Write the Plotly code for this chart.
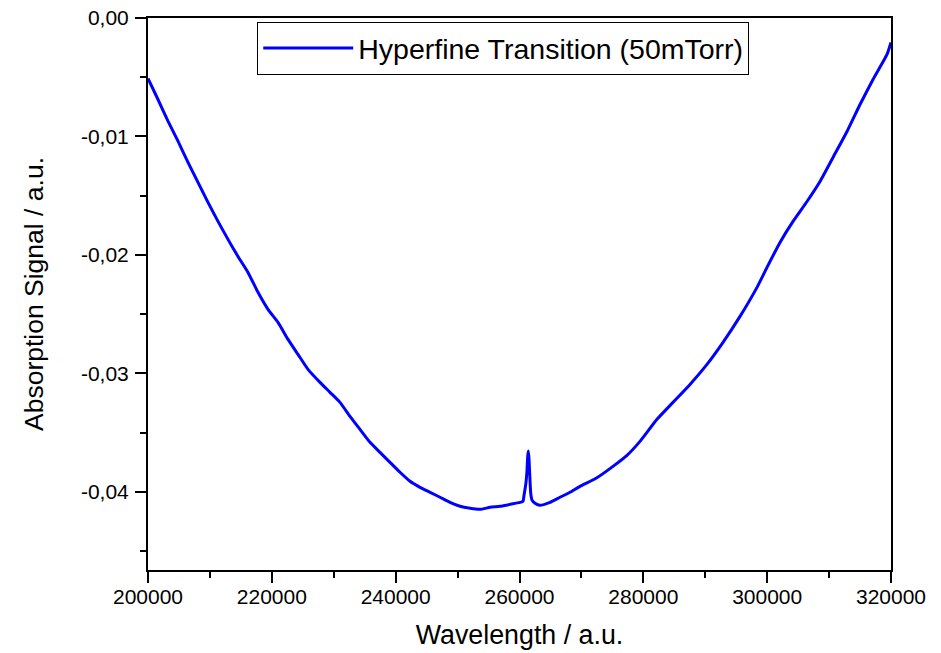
import plotly.graph_objects as go

# Absorption scan: wavelength (a.u.) vs. absorption signal (a.u.)
wavelength = [
    200000, 201615, 203230, 204845, 206460, 208076, 209691, 211306, 212921,
    214536, 216151, 217766, 219381, 220996, 222611, 224227, 225842, 227780,
    229395, 231010, 232625, 234240, 235856, 237470, 239085, 240700, 242315,
    243930, 245545, 247160, 248775, 250390, 252006, 253620, 255235, 256850,
    258465, 260080, 260565, 260727, 260890, 261051, 261212, 261325, 261422,
    261535, 261648, 261810, 262020, 262505, 263312, 264927, 266540, 268155,
    269770, 272355, 275100, 277361, 279460, 282206, 284790, 287535, 290280,
    292870, 295615, 298360, 299975, 302075, 304175, 306435, 308535, 310635,
    312895, 314995, 317095, 319355, 320000,
]
signal = [
    -0.00510, -0.00688, -0.00871, -0.01040, -0.01219, -0.01388, -0.01557, -0.01717, -0.01869,
    -0.02013, -0.02148, -0.02316, -0.02460, -0.02570, -0.02713, -0.02840, -0.02966, -0.03076,
    -0.03160, -0.03245, -0.03363, -0.03473, -0.03582, -0.03667, -0.03751, -0.03835, -0.03911,
    -0.03962, -0.04004, -0.04046, -0.04089, -0.04122, -0.04139, -0.04148, -0.04131, -0.04122,
    -0.04106, -0.04089, -0.04080, -0.04030, -0.03979, -0.03920, -0.03820, -0.03700, -0.03656,
    -0.03720, -0.03850, -0.04010, -0.04070, -0.04097, -0.04114, -0.04089, -0.04046, -0.04004,
    -0.03954, -0.03886, -0.03785, -0.03692, -0.03574, -0.03388, -0.03245, -0.03093, -0.02924,
    -0.02738, -0.02519, -0.02274, -0.02105, -0.01895, -0.01717, -0.01549, -0.01380, -0.01177,
    -0.00958, -0.00730, -0.00519, -0.00308, -0.00207,
]

x_tick_vals = [200000, 220000, 240000, 260000, 280000, 300000, 320000]
x_tick_text = ["200000", "220000", "240000", "260000", "280000", "300000", "320000"]
x_minor_vals = [210000, 230000, 250000, 270000, 290000, 310000]
y_tick_vals = [0.0, -0.01, -0.02, -0.03, -0.04]
y_tick_text = ["0,00", "-0,01", "-0,02", "-0,03", "-0,04"]
y_minor_vals = [-0.005, -0.015, -0.025, -0.035, -0.045]

FONT = "Liberation Sans, Arial, sans-serif"

fig = go.Figure()
fig.add_trace(go.Scatter(
    x=wavelength, y=signal, mode="lines",
    name="Hyperfine Transition (50mTorr)",
    line=dict(color="#0000FF", width=3, shape="spline", smoothing=0.5),
))

axis_common = dict(
    showline=True, linecolor="black", linewidth=2, mirror=True,
    ticks="outside", tickcolor="black", tickwidth=2, ticklen=11,
    showgrid=False, zeroline=False, automargin=False,
    tickfont=dict(family=FONT, size=21, color="black"),
)

fig.update_xaxes(
    range=[200000, 320000], tickvals=x_tick_vals, ticktext=x_tick_text,
    minor=dict(tickvals=x_minor_vals, ticks="outside", ticklen=6,
               tickwidth=2, tickcolor="black"),
    ticklabelstandoff=-4,
    title=dict(text="Wavelength / a.u.", standoff=18,
               font=dict(family=FONT, size=26.8, color="black")),
    **axis_common,
)
fig.update_yaxes(
    range=[-0.0466, 0.0], tickvals=y_tick_vals, ticktext=y_tick_text,
    minor=dict(tickvals=y_minor_vals, ticks="outside", ticklen=6,
               tickwidth=2, tickcolor="black"),
    ticklabelstandoff=2,
    title=dict(text="Absorption Signal / a.u.", standoff=30,
               font=dict(family=FONT, size=26.5, color="black")),
    **axis_common,
)

fig.update_layout(
    width=941, height=653,
    margin=dict(l=148, r=50, t=18, b=83),
    paper_bgcolor="white", plot_bgcolor="white",
    showlegend=True,
    legend=dict(
        x=0.147, y=0.993, xanchor="left", yanchor="top",
        itemwidth=90,
        bgcolor="white", bordercolor="black", borderwidth=1,
        font=dict(family=FONT, size=28.5, color="black"),
    ),
)

fig.write_html("out.html")
